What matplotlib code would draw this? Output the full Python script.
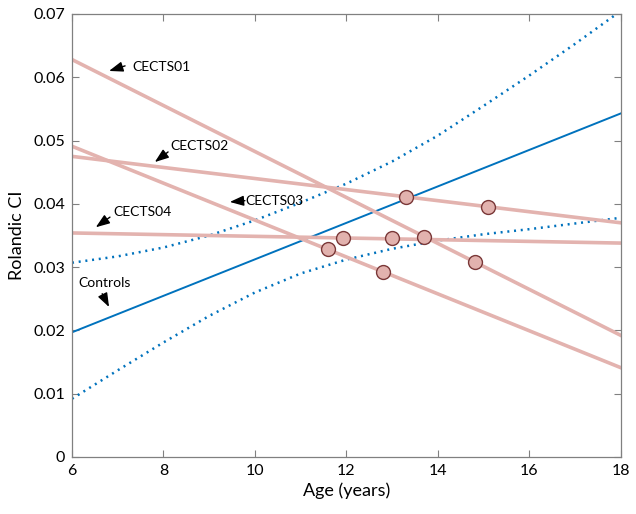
import matplotlib.pyplot as plt

plt.rcParams['font.family'] = ['Lato', 'DejaVu Sans']

# regression lines of each patient: value at age 6 and age 18
ages_end = [6, 18]
cects_names = ['CECTS01', 'CECTS02', 'CECTS03', 'CECTS04']
cects_start = [0.0628, 0.0475, 0.0491, 0.0354]
cects_end = [0.0192, 0.0370, 0.0141, 0.0338]

# patient measurements
point_age = [11.6, 11.92, 12.8, 12.99, 13.3, 13.69, 14.8, 15.09]
point_ci = [0.0328, 0.0346, 0.0292, 0.0346, 0.0411, 0.0348, 0.0308, 0.0395]

# controls fit and confidence band
controls_line = [0.0197, 0.0543]
band_age = [6, 7, 8, 9, 10, 11, 12, 13, 14, 15, 16, 17, 18]
band_upper = [0.0307, 0.0317, 0.0331, 0.0350, 0.0374, 0.0402, 0.0432,
              0.0467, 0.0508, 0.0555, 0.0603, 0.0653, 0.0705]
band_lower = [0.0092, 0.0137, 0.0181, 0.0223, 0.0260, 0.0290, 0.0312,
              0.0329, 0.0342, 0.0352, 0.0360, 0.0369, 0.0378]

blue = '#0072bd'
pink = '#e3b3af'

fig = plt.figure(figsize=(6.36, 5.14), dpi=100)
ax = fig.add_axes([0.1132, 0.1109, 0.8632, 0.8619])

ax.plot(band_age, band_upper, color=blue, lw=1.8, dashes=(0.8, 1.9))
ax.plot(band_age, band_lower, color=blue, lw=1.8, dashes=(0.8, 1.9))
ax.plot(ages_end, controls_line, color=blue, lw=1.4)

for s, e in zip(cects_start, cects_end):
    ax.plot(ages_end, [s, e], color=pink, lw=2.6)

ax.plot(point_age, point_ci, 'o', ms=10, mfc='#e2b2ae', mec='#7a3838', mew=1)

# labels with arrows
arrow = dict(arrowstyle='-|>,head_length=0.6,head_width=0.22', color='black',
             lw=1, shrinkA=0, shrinkB=0, mutation_scale=14)
notes = [
    ('CECTS01', (7.31, 0.0616), (6.81, 0.0610), (7.16, 0.0618)),
    ('CECTS02', (8.16, 0.0491), (7.81, 0.0466), (8.10, 0.0482)),
    ('CECTS03', (9.80, 0.0404), (9.45, 0.0403), (9.78, 0.0405)),
    ('CECTS04', (6.90, 0.0387), (6.52, 0.0363), (6.83, 0.0379)),
    ('Controls', (6.13, 0.0275), (6.81, 0.0237), (6.66, 0.0258)),
]
for txt, tpos, tip, tail in notes:
    ax.text(tpos[0], tpos[1], txt, fontsize=10, va='center', ha='left')
    ax.annotate('', xy=tip, xytext=tail, arrowprops=arrow)

ax.set_xlim(6, 18)
ax.set_ylim(0, 0.07)
ax.set_xticks([6, 8, 10, 12, 14, 16, 18])
ax.set_yticks([0, 0.01, 0.02, 0.03, 0.04, 0.05, 0.06, 0.07])
ax.set_yticklabels(['0', '0.01', '0.02', '0.03', '0.04', '0.05', '0.06', '0.07'])
ax.tick_params(direction='in', top=True, right=True, length=5, width=0.8,
               color='#808080', labelsize=11.5, pad=5)
for sp in ax.spines.values():
    sp.set_color('#808080')
    sp.set_linewidth(0.9)

ax.set_xlabel('Age (years)', fontsize=13, labelpad=3)
ax.set_ylabel('Rolandic CI', fontsize=13, labelpad=6)

fig.savefig('out.png', dpi=100)
